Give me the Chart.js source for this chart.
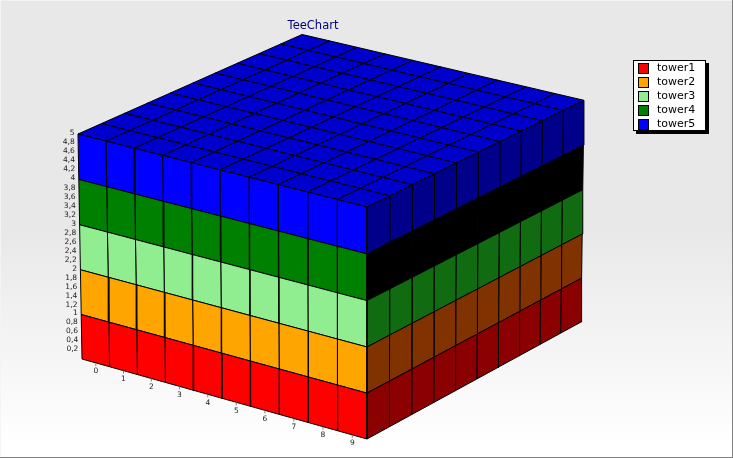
<!DOCTYPE html>
<html>
<head>
<meta charset="utf-8">
<style>
  html, body { margin: 0; padding: 0; background: #fff; }
  #wrap { width: 733px; height: 458px; }
</style>
<script src="https://cdn.jsdelivr.net/npm/chart.js@4"></script>
</head>
<body>
<div id="wrap"><canvas id="tower" width="733" height="458"></canvas></div>
<script>
// chart data
const chartTitle = 'TeeChart';
const xCategories = ['0', '1', '2', '3', '4', '5', '6', '7', '8', '9'];
const depthCategories = ['0', '1', '2', '3', '4', '5', '6', '7', '8', '9'];
const levelTicks = [0.2, 0.4, 0.6, 0.8, 1, 1.2, 1.4, 1.6, 1.8, 2, 2.2, 2.4, 2.6, 2.8, 3, 3.2, 3.4, 3.6, 3.8, 4, 4.2, 4.4, 4.6, 4.8, 5];
const towerNames = ['tower1', 'tower2', 'tower3', 'tower4', 'tower5'];
const tower1 = [1, 1, 1, 1, 1, 1, 1, 1, 1, 1];
const tower2 = [1, 1, 1, 1, 1, 1, 1, 1, 1, 1];
const tower3 = [1, 1, 1, 1, 1, 1, 1, 1, 1, 1];
const tower4 = [1, 1, 1, 1, 1, 1, 1, 1, 1, 1];
const tower5 = [1, 1, 1, 1, 1, 1, 1, 1, 1, 1];
const towerValues = [tower1, tower2, tower3, tower4, tower5];

const frontColors = ['#ff0000', '#ffa500', '#90ee90', '#008000', '#0000ff'];
const sideColors = ['#8b0000', '#803300', '#116c11', '#000000', '#00008b'];
const topColor = '#0000cd';

// camera fitted to the box: u along the front, v into the depth, w up
function project(col, depth, level) {
    const u = col / xCategories.length;
    const v = depth / depthCategories.length;
    const w = level / 5;
    const d = 1 - 0.03452 * u + 0.0515 * v - 0.01384 * w;
    return {
        x: (82 + 272.33 * u + 236.55 * v - 5.08 * w) / d,
        y: (359 + 64.85 * u - 96.38 * v - 226.85 * w) / d
    };
}

function face(points, color) {
    return {
        type: 'line',
        data: points.concat([points[0]]),
        xAxisID: 'px',
        yAxisID: 'py',
        backgroundColor: color,
        borderColor: '#000',
        borderWidth: 1,
        fill: 'shape',
        pointRadius: 0,
        tension: 0,
        clip: false
    };
}

// sum of the towers below, for the given column
function stackBase(t, col) {
    let sum = 0;
    for (let i = 0; i < t; i++) sum += towerValues[i][col];
    return sum;
}

const datasets = [];
const lastCol = xCategories.length;

towerValues.forEach((values, t) => {
    values.forEach((val, i) => {
        const lo = stackBase(t, i);
        const hi = lo + val;
        // front wall
        datasets.push(face([project(i, 0, lo), project(i + 1, 0, lo), project(i + 1, 0, hi), project(i, 0, hi)], frontColors[t]));
        // right wall
        datasets.push(face([project(lastCol, i, lo), project(lastCol, i + 1, lo), project(lastCol, i + 1, hi), project(lastCol, i, hi)], sideColors[t]));
    });
});

// roof of the last tower
xCategories.forEach((c, i) => {
    depthCategories.forEach((dc, j) => {
        const h = stackBase(towerValues.length, i);
        datasets.push(face([project(i, j, h), project(i + 1, j, h), project(i + 1, j + 1, h), project(i, j + 1, h)], topColor));
    });
});

const background = {
    id: 'background',
    beforeDraw(chart) {
        const ctx = chart.ctx;
        const g = ctx.createLinearGradient(0, 0, 0, chart.height);
        g.addColorStop(0, '#e8e8e8');
        g.addColorStop(0.5, '#e8e8e8');
        g.addColorStop(0.97, '#ffffff');
        g.addColorStop(1, '#ffffff');
        ctx.save();
        ctx.fillStyle = g;
        ctx.fillRect(0, 0, chart.width, chart.height);
        // panel bevel
        ctx.fillStyle = '#f4f4f4';
        ctx.fillRect(0, 0, chart.width, 1);
        ctx.fillRect(0, 0, 1, chart.height);
        ctx.fillStyle = '#808080';
        ctx.fillRect(chart.width - 1, 0, 1, chart.height);
        ctx.fillRect(0, chart.height - 1, chart.width, 1);
        ctx.restore();
    }
};

const annotations = {
    id: 'annotations',
    afterDraw(chart) {
        const ctx = chart.ctx;
        const px = chart.scales.px;
        const py = chart.scales.py;
        ctx.save();

        // title
        ctx.font = '11.5px "DejaVu Sans"';
        ctx.fillStyle = '#000080';
        ctx.textAlign = 'center';
        ctx.textBaseline = 'middle';
        ctx.fillText(chartTitle, 313, 26);

        // x labels along the bottom front edge
        ctx.font = '7.5px "DejaVu Sans"';
        ctx.fillStyle = '#222';
        ctx.strokeStyle = '#808080';
        xCategories.forEach((label, i) => {
            const p = project(i + 0.5, 0, 0);
            const x = px.getPixelForValue(p.x);
            const y = py.getPixelForValue(p.y);
            ctx.beginPath();
            ctx.moveTo(x, y);
            ctx.lineTo(x, y + 3);
            ctx.stroke();
            ctx.fillText(label, x, y + 8.5);
        });

        // level labels along the left edge
        ctx.textAlign = 'right';
        levelTicks.forEach(tick => {
            const p = project(0, 0, tick);
            ctx.fillText(String(tick).replace('.', ','), px.getPixelForValue(p.x) - 3.5, py.getPixelForValue(p.y) - 1);
        });

        // legend
        const lx = 633, ly = 60, lw = 73, lh = 71;
        ctx.fillStyle = '#000';
        ctx.fillRect(lx + 3, ly + 3, lw, lh);
        ctx.fillStyle = '#fff';
        ctx.fillRect(lx, ly, lw, lh);
        ctx.strokeStyle = '#000';
        ctx.lineWidth = 1;
        ctx.strokeRect(lx + 0.5, ly + 0.5, lw - 1, lh - 1);
        ctx.font = '11px "DejaVu Sans"';
        ctx.textAlign = 'left';
        towerNames.forEach((name, i) => {
            const y = ly + 3 + i * 14;
            ctx.fillStyle = frontColors[i];
            ctx.fillRect(lx + 5, y, 10, 10);
            ctx.strokeStyle = '#000';
            ctx.strokeRect(lx + 5.5, y + 0.5, 10, 10);
            ctx.fillStyle = '#000';
            ctx.fillText(name, lx + 24, y + 5.5);
        });
        ctx.restore();
    }
};

new Chart(document.getElementById('tower').getContext('2d'), {
    data: { datasets: datasets },
    options: {
        responsive: false,
        animation: false,
        layout: { padding: 0 },
        plugins: { legend: { display: false }, title: { display: false }, tooltip: { enabled: false } },
        scales: {
            px: { type: 'linear', display: false, min: 0, max: 733 },
            py: { type: 'linear', display: false, min: 0, max: 458, reverse: true }
        }
    },
    plugins: [background, annotations]
});
</script>
</body>
</html>
